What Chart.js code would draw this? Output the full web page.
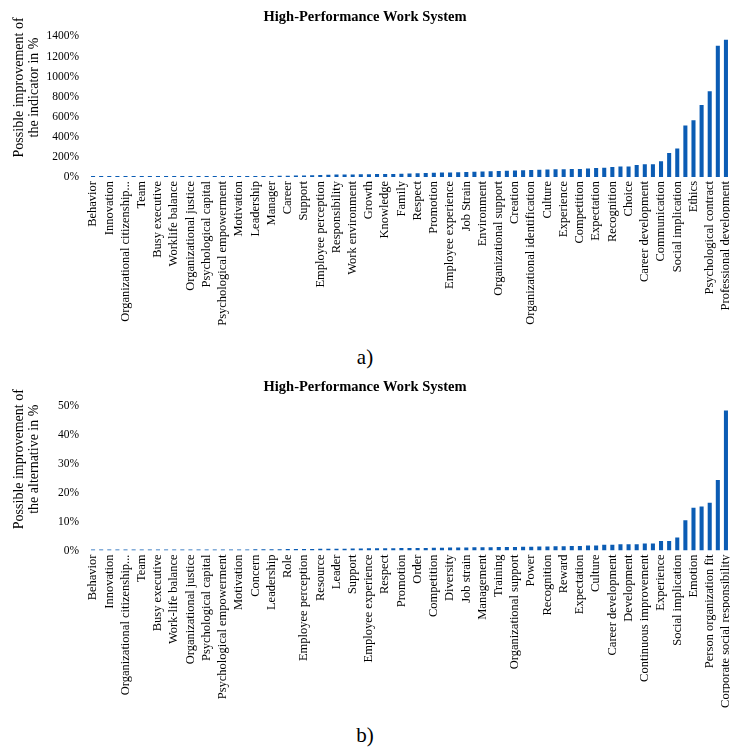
<!DOCTYPE html>
<html>
<head>
<meta charset="utf-8">
<script src="https://cdn.jsdelivr.net/npm/chart.js@4.4.1/dist/chart.umd.min.js"></script>
<style>
    body { margin: 0; background: #fff; width: 730px; height: 749px; position: relative; overflow: hidden; font-family: 'Liberation Serif', 'Times New Roman', serif; }
    canvas { position: absolute; left: 0; }
    .tag { position: absolute; left: 0; width: 730px; text-align: center; font-size: 21px; line-height: 24px; color: #000; }
</style>
</head>
<body>
<canvas id="chartA" width="730" height="340" style="top:0"></canvas>
<div class="tag" style="top:345px">a)</div>
<canvas id="chartB" width="730" height="345" style="top:370px"></canvas>
<div class="tag" style="top:723px">b)</div>

<script>
const SERIF = "'Liberation Serif', 'Times New Roman', serif";
const BLUE = '#0b5cb4';
const TITLE = 'High-Performance Work System';

// only every second bar carries a readable label in the source
const labelsA = [
    'Behavior', 'Innovation', 'Organizational citizenship...', 'Team', 'Busy executive',
    'Worklife balance', 'Organizational justice', 'Psychological capital', 'Psychological empowerment', 'Motivation',
    'Leadership', 'Manager', 'Career', 'Support', 'Employee perception',
    'Responsibility', 'Work environment', 'Growth', 'Knowledge', 'Family',
    'Respect', 'Promotion', 'Employee experience', 'Job Strain', 'Environment',
    'Organizational support', 'Creation', 'Organizational identification', 'Culture', 'Experience',
    'Competition', 'Expectation', 'Recognition', 'Choice', 'Career development',
    'Communication', 'Social implication', 'Ethics', 'Psychological contract', 'Professional development'
];
const valuesA = [
    0, 0, 0, 0, 0.5, 1, 1, 1.5, 2, 2, 3, 3, 3, 4, 4, 5, 5,
    6, 7, 8, 9, 10, 11, 12, 13, 15,
    16, 18, 20, 22, 24,
    25, 26, 27, 28, 29, 30, 31,
    32, 35, 38, 40,
    42, 44, 46, 48, 50, 52,
    55, 57, 60, 62, 65,
    68, 70, 72, 74, 76,
    78, 80, 80, 85, 90, 92, 100, 105, 105, 120, 126, 126, 158, 238, 284, 512, 564, 716, 854, 1307, 1366
];
const yMaxA = 1400;
const yStepA = 200;
const yTitleA = ['Possible improvement of', 'the indicator in %'];

const labelsB = [
    'Behavior', 'Innovation', 'Organizational citizenship...', 'Team', 'Busy executive',
    'Work-life balance', 'Organizational justice', 'Psychological capital', 'Psychological empowerment', 'Motivation',
    'Concern', 'Leadership', 'Role', 'Employee perception', 'Resource',
    'Leader', 'Support', 'Employee experience', 'Respect', 'Promotion',
    'Order', 'Competition', 'Diversity', 'Job strain', 'Management',
    'Training', 'Organizational support', 'Power', 'Recognition', 'Reward',
    'Expectation', 'Culture', 'Career development', 'Development', 'Continuous improvement',
    'Experience', 'Social implication', 'Emotion', 'Person organization fit', 'Corporate social responsibility'
];
const valuesB = [
    0, 0, 0, 0, 0.05, 0.05, 0.1, 0.1, 0.1, 0.15, 0.15, 0.2, 0.2, 0.2, 0.25, 0.25, 0.3,
    0.3, 0.35, 0.35, 0.4, 0.4, 0.45, 0.45, 0.5, 0.5,
    0.55, 0.55, 0.6, 0.6, 0.65, 0.65, 0.7, 0.7, 0.75, 0.75, 0.8, 0.8,
    0.85, 0.85, 0.9, 0.9, 0.95, 0.95, 1.0, 1.0, 1.05, 1.1,
    1.1, 1.15, 1.2, 1.2, 1.25, 1.3, 1.3, 1.35, 1.4, 1.45,
    1.5, 1.6, 1.6, 1.7, 1.7, 2.0, 2.0, 2.2, 2.2, 2.2, 2.4, 2.4, 3.3, 3.3, 4.5, 10.5, 14.8, 15.3, 16.6, 24.5, 48.6
];
const yMaxB = 50;
const yStepB = 10;
const yTitleB = ['Possible improvement of', 'the alternative in %'];

// labels sit on even bars, odd bars stay unlabelled
function buildCategories(labels, count) {
    const cats = [];
    for (let i = 0; i < count; i++) {
        cats.push(i % 2 === 0 ? (labels[i / 2] || '') : '');
    }
    return cats;
}

// shift the axis title a little up, like the original
function liftTitle(lines) {
    return lines.map(t => '\u00a0'.repeat(11) + t);
}

function makeChart(id, labels, values, yMax, yStep, yTitle, xHeight) {
    const ctx = document.getElementById(id).getContext('2d');
    return new Chart(ctx, {
        type: 'bar',
        data: {
            labels: buildCategories(labels, values.length),
            datasets: [{
                data: values,
                backgroundColor: BLUE,
                barPercentage: 0.5,
                categoryPercentage: 1,
                minBarLength: 1
            }]
        },
        options: {
            responsive: false,
            animation: false,
            layout: { padding: 0 },
            plugins: {
                legend: { display: false },
                tooltip: { enabled: false },
                title: {
                    display: true,
                    text: TITLE,
                    color: '#000',
                    font: { family: SERIF, size: 14.5, weight: 'bold' },
                    padding: { top: 9, bottom: 10 }
                }
            },
            scales: {
                x: {
                    grid: { display: false, drawTicks: false },
                    border: { display: false },
                    ticks: {
                        autoSkip: false,
                        minRotation: 90,
                        maxRotation: 90,
                        color: '#000',
                        font: { family: SERIF, size: 12.5 },
                        padding: 4
                    },
                    afterFit: s => { s.height = xHeight; s.paddingLeft = 0; s.paddingRight = 0; }
                },
                y: {
                    min: 0,
                    max: yMax,
                    grid: { display: false, drawTicks: false },
                    border: { display: false },
                    ticks: {
                        stepSize: yStep,
                        color: '#000',
                        font: { family: SERIF, size: 11.5 },
                        padding: 10,
                        callback: v => v + '%'
                    },
                    title: {
                        display: true,
                        text: liftTitle(yTitle),
                        color: '#000',
                        font: { family: SERIF, size: 14, lineHeight: 1.07 },
                        padding: { top: 12, bottom: 0 }
                    },
                    afterFit: s => { s.width = 89; }
                }
            }
        }
    });
}

makeChart('chartA', labelsA, valuesA, yMaxA, yStepA, yTitleA, 163);
makeChart('chartB', labelsB, valuesB, yMaxB, yStepB, yTitleB, 164.5);
</script>
</body>
</html>
